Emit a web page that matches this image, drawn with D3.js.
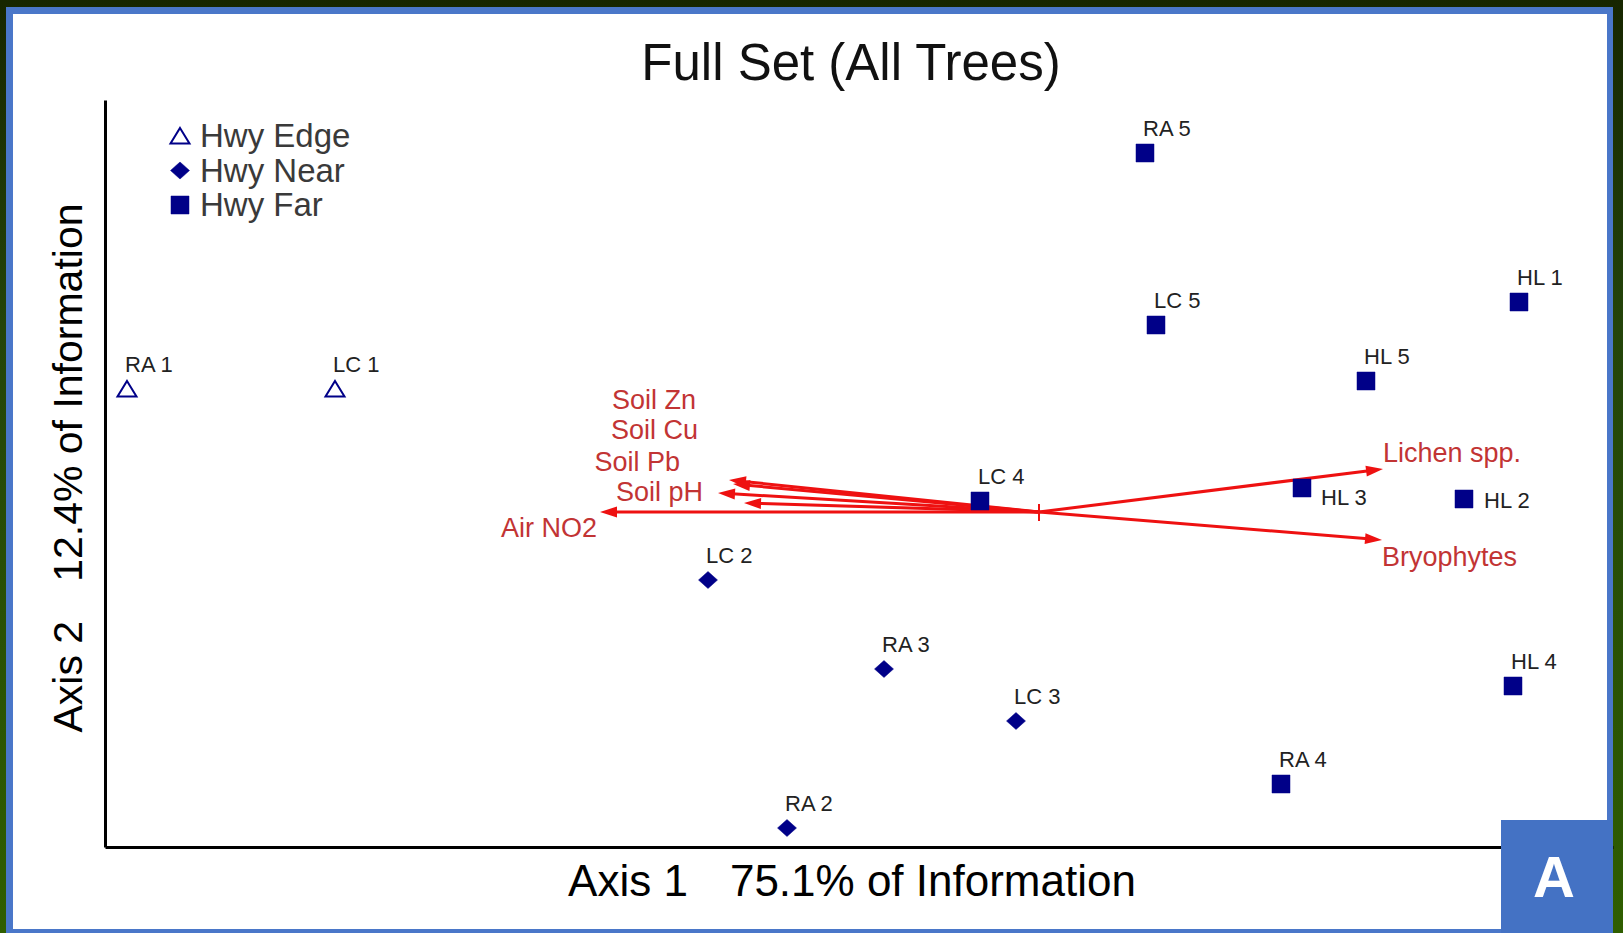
<!DOCTYPE html>
<html><head><meta charset="utf-8">
<script src="https://cdn.jsdelivr.net/npm/d3@7"></script>
<style>
html,body{margin:0;padding:0;overflow:hidden;background:#1f3a00}
svg{display:block}
text{font-family:"Liberation Sans",Arial,Helvetica,sans-serif}
</style>
</head><body>
<svg id="c" width="1623" height="933"></svg>
<script>
// ---- data (ordination scores) ----
const sites  = ["RA 1","LC 1","RA 5","LC 5","HL 1","HL 5","LC 4","HL 3","HL 2","HL 4","RA 4","LC 2","RA 3","LC 3","RA 2"];
const groups = ["Hwy Edge","Hwy Edge","Hwy Far","Hwy Far","Hwy Far","Hwy Far","Hwy Far","Hwy Far","Hwy Far","Hwy Far","Hwy Far","Hwy Near","Hwy Near","Hwy Near","Hwy Near"];
const axis1  = [-1.824,-1.408, 0.212, 0.234, 0.960, 0.654,-0.118, 0.526, 0.850, 0.948, 0.484,-0.662,-0.310,-0.046,-0.504];
const axis2  = [ 0.246, 0.246, 0.718, 0.374, 0.420, 0.262, 0.022, 0.048, 0.026,-0.348,-0.544,-0.136,-0.314,-0.418,-0.632];
const labelSide = ["above","above","above","above","above","above","above","belowRight","right","above","above","above","above","above","above"];

const variables = ["Soil Zn","Soil Cu","Soil Pb","Soil pH","Air NO2","Lichen spp.","Bryophytes"];
const varAxis1  = [-0.620,-0.612,-0.642,-0.590,-0.878, 0.688, 0.686];
const varAxis2  = [ 0.064, 0.056, 0.038, 0.018, 0.000, 0.086,-0.056];

const legendGroups = ["Hwy Edge","Hwy Near","Hwy Far"];
const titleText = "Full Set (All Trees)";
const xTitle = ["Axis 1","75.1% of Information"];
const yTitle = ["Axis 2","12.4% of Information"];
const panelLetter = "A";

// ---- layout ----
const W = 1623, H = 933;
const svg = d3.select("#c");
const defs = svg.append("defs");
const bg = defs.append("linearGradient").attr("id","bg").attr("x1",0).attr("y1",0).attr("x2",0).attr("y2",1);
bg.append("stop").attr("offset","0").attr("stop-color","#172600");
bg.append("stop").attr("offset","0.35").attr("stop-color","#24440a");
bg.append("stop").attr("offset","1").attr("stop-color","#2f5e00");
svg.append("rect").attr("width",W).attr("height",H).attr("fill","url(#bg)");
svg.append("rect").attr("x",6).attr("y",7).attr("width",1607).attr("height",H-7).attr("fill","#4a77c9");
svg.append("rect").attr("x",13).attr("y",14).attr("width",1594).attr("height",915).attr("fill","#ffffff");

const x = d3.scaleLinear().domain([-1.868, 1.148]).range([105, 1613]);
const y = d3.scaleLinear().domain([-0.67, 0.824]).range([847, 100]);

const navy = "#000088";
const red = "#ee1111";
const redText = "#c23434";

// title
svg.append("text").attr("x",851).attr("y",80).attr("text-anchor","middle")
  .attr("font-size",51).attr("fill","#111").text(titleText);

// axes (domain lines only)
const gx = svg.append("g").attr("transform","translate(0,847)")
  .call(d3.axisBottom(x).ticks(0).tickSize(0).tickSizeOuter(0));
const gy = svg.append("g").attr("transform","translate(105,0)")
  .call(d3.axisLeft(y).ticks(0).tickSize(0).tickSizeOuter(0));
[gx,gy].forEach(g=>{g.select(".domain").attr("stroke","#000").attr("stroke-width",3);g.selectAll(".tick").remove();});

// axis titles
const xt = svg.append("text").attr("x",852).attr("y",896).attr("text-anchor","middle").attr("font-size",44).attr("fill","#000");
xt.append("tspan").text(xTitle[0]);
xt.append("tspan").attr("dx",42).text(xTitle[1]);
const yt = svg.append("text").attr("transform","translate(82,468) rotate(-90)").attr("text-anchor","middle").attr("font-size",41).attr("fill","#000");
yt.append("tspan").text(yTitle[0]);
yt.append("tspan").attr("dx",39).text(yTitle[1]);

// marker shapes
function shapePath(group){
  if(group==="Hwy Edge") return "M0,-8L9.5,7.5L-9.5,7.5Z";
  if(group==="Hwy Near") return "M0,-8.5L9.5,0L0,8.5L-9.5,0Z";
  return "M-9,-9H9V9H-9Z";
}
function drawShape(sel, group){
  sel.attr("d", shapePath(group))
    .attr("fill", group==="Hwy Edge" ? "none" : navy)
    .attr("stroke", navy)
    .attr("stroke-width", group==="Hwy Edge" ? 2 : 0.5);
}

// legend
const leg = svg.append("g");
const legY = d3.scalePoint().domain(legendGroups).range([136,205]);
legendGroups.forEach(gname=>{
  leg.append("path").attr("transform",`translate(180,${legY(gname)})`).call(drawShape, gname);
  leg.append("text").attr("x",200).attr("y",legY(gname)+11).attr("font-size",33).attr("fill","#3a3a3a").text(gname);
});

// biplot vectors
const ox = x(0), oy = y(0);
const vg = svg.append("g");
variables.forEach((v,i)=>{
  const tx = x(varAxis1[i]), ty = y(varAxis2[i]);
  const dx = tx-ox, dy = ty-oy, len = Math.hypot(dx,dy);
  const ux = dx/len, uy = dy/len, hl = 17, hw = 5.5;
  vg.append("line").attr("x1",ox).attr("y1",oy).attr("x2",tx-ux*(hl-3)).attr("y2",ty-uy*(hl-3))
    .attr("stroke",red).attr("stroke-width",3);
  const bx = tx-ux*hl, by = ty-uy*hl;
  vg.append("path").attr("d",`M${tx},${ty}L${bx-uy*hw},${by+ux*hw}L${bx+uy*hw},${by-ux*hw}Z`).attr("fill",red);
});
vg.append("line").attr("x1",ox).attr("y1",oy-8).attr("x2",ox).attr("y2",oy+9).attr("stroke",red).attr("stroke-width",2);
vg.append("line").attr("x1",ox-8).attr("y1",oy).attr("x2",ox+8).attr("y2",oy).attr("stroke",red).attr("stroke-width",2);

// vector labels (offset from arrow tip)
const varLabelOffset = {
  "Soil Zn":[-33,-71,"end"], "Soil Cu":[-35,-45,"end"], "Soil Pb":[-38,-22,"end"],
  "Soil pH":[-41,-2,"end"], "Air NO2":[-3,25,"end"], "Lichen spp.":[0,-7,"start"], "Bryophytes":[0,26,"start"]
};
variables.forEach((v,i)=>{
  const o = varLabelOffset[v];
  svg.append("text").attr("x",x(varAxis1[i])+o[0]).attr("y",y(varAxis2[i])+o[1])
    .attr("text-anchor",o[2]).attr("font-size",27).attr("fill",redText).text(v);
});

// site points
const pts = sites.map((s,i)=>({name:s, group:groups[i], a1:axis1[i], a2:axis2[i], side:labelSide[i]}));
svg.append("g").selectAll("path").data(pts).join("path")
  .attr("transform",d=>`translate(${x(d.a1)},${y(d.a2)})`)
  .each(function(d){ d3.select(this).call(drawShape, d.group); });
const sideOff = {above:[-2,-17], belowRight:[19,17], right:[20,9]};
svg.append("g").selectAll("text").data(pts).join("text")
  .attr("x",d=>x(d.a1)+sideOff[d.side][0]).attr("y",d=>y(d.a2)+sideOff[d.side][1])
  .attr("font-size",22).attr("fill","#222").text(d=>d.name);

// panel letter box
svg.append("rect").attr("x",1501).attr("y",820).attr("width",112).attr("height",113).attr("fill","#4472c4");
svg.append("text").attr("x",1554).attr("y",897).attr("text-anchor","middle").attr("font-size",58)
  .attr("font-weight","bold").attr("fill","#fff").text(panelLetter);
</script>
</body></html>
